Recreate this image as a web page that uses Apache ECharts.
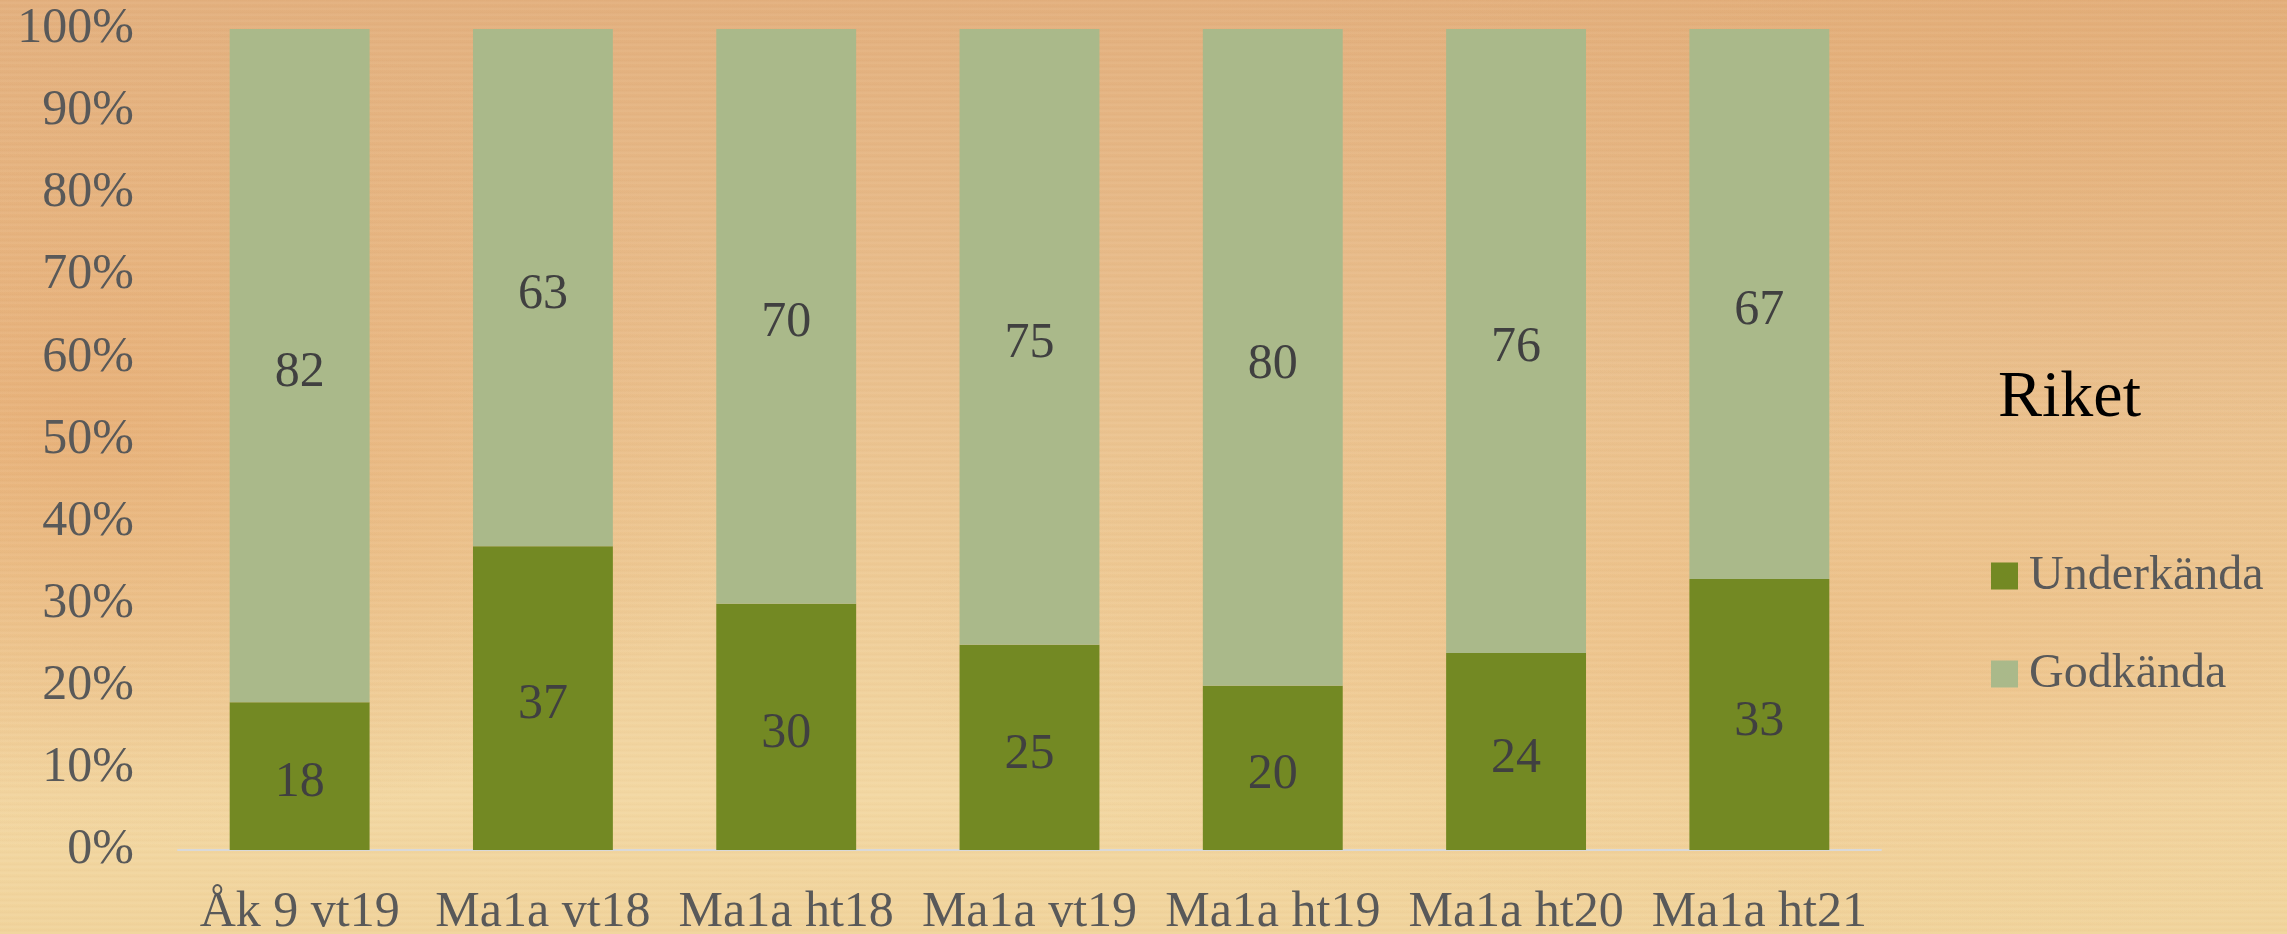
<!DOCTYPE html>
<html>
<head>
<meta charset="utf-8">
<script src="https://cdn.jsdelivr.net/npm/echarts@6/dist/echarts.min.js"></script>
<style>
html, body { margin: 0; padding: 0; width: 2287px; height: 934px; overflow: hidden; }
body {
  background:
    repeating-linear-gradient(0deg, rgba(255,255,255,0.035) 0px, rgba(255,255,255,0.035) 2px, rgba(150,90,40,0.03) 3px, rgba(150,90,40,0.0) 6px),
    radial-gradient(ellipse 700px 420px at 80px 430px, rgba(228,160,100,0.5), rgba(228,160,100,0) 100%),
    radial-gradient(ellipse 700px 380px at 2000px 80px, rgba(228,170,110,0.35), rgba(228,170,110,0) 100%),
    radial-gradient(ellipse 900px 300px at 1800px 650px, rgba(232,170,110,0.35), rgba(232,170,110,0) 100%),
    linear-gradient(180deg, #E3B07E 0%, #E9BE8C 35%, #EECA95 60%, #F3D8A3 85%, #F1D49C 100%);
}
#chart { width: 2287px; height: 934px; }
</style>
</head>
<body>
<div id="chart"></div>
<script>
const categories = ['Åk 9 vt19', 'Ma1a vt18', 'Ma1a ht18', 'Ma1a vt19', 'Ma1a ht19', 'Ma1a ht20', 'Ma1a ht21'];
const underkanda = [18, 37, 30, 25, 20, 24, 33];
const godkanda = [82, 63, 70, 75, 80, 76, 67];
const seriesNames = ['Underkända', 'Godkända'];
const titleText = 'Riket';

const FONT = '"Liberation Serif", "Times New Roman", serif';
const chart = echarts.init(document.getElementById('chart'), null, { renderer: 'canvas' });
const labelStyle = {
  show: true,
  position: 'inside',
  offset: [0, 7],
  color: '#404040',
  fontFamily: FONT,
  fontSize: 50
};
chart.setOption({
  backgroundColor: 'transparent',
  animation: false,
  title: {
    text: titleText,
    left: 1993,
    top: 361,
    textStyle: { fontFamily: FONT, fontSize: 66, fontWeight: 'normal', color: '#000000' }
  },
  legend: {
    orient: 'vertical',
    left: 1986,
    top: 547,
    itemWidth: 27,
    itemHeight: 27,
    itemGap: 50,
    icon: 'rect',
    data: seriesNames,
    textStyle: { fontFamily: FONT, fontSize: 48, color: '#595959', lineHeight: 48, padding: [0, 0, 0, 6] }
  },
  grid: { left: 178, right: 406, top: 29, bottom: 84, containLabel: false, outerBoundsMode: 'none' },
  xAxis: {
    type: 'category',
    data: categories,
    axisLine: { show: true, lineStyle: { color: '#D9D9D9', width: 2 } },
    axisTick: { show: false },
    axisLabel: { interval: 0, fontFamily: FONT, fontSize: 50, color: '#595959', margin: 38 }
  },
  yAxis: {
    type: 'value',
    min: 0,
    max: 100,
    interval: 10,
    splitLine: { show: false },
    axisLine: { show: false },
    axisTick: { show: false },
    axisLabel: { fontFamily: FONT, fontSize: 50, color: '#595959', margin: 44, formatter: '{value}%', padding: [8, 0, 0, 0] }
  },
  series: [
    {
      name: seriesNames[0],
      type: 'bar',
      stack: 'total',
      barWidth: '57.5%',
      data: underkanda,
      itemStyle: { color: '#738923' },
      label: labelStyle
    },
    {
      name: seriesNames[1],
      type: 'bar',
      stack: 'total',
      barWidth: '57.5%',
      data: godkanda,
      itemStyle: { color: '#AAB98A' },
      label: labelStyle
    }
  ]
});
</script>
</body>
</html>
